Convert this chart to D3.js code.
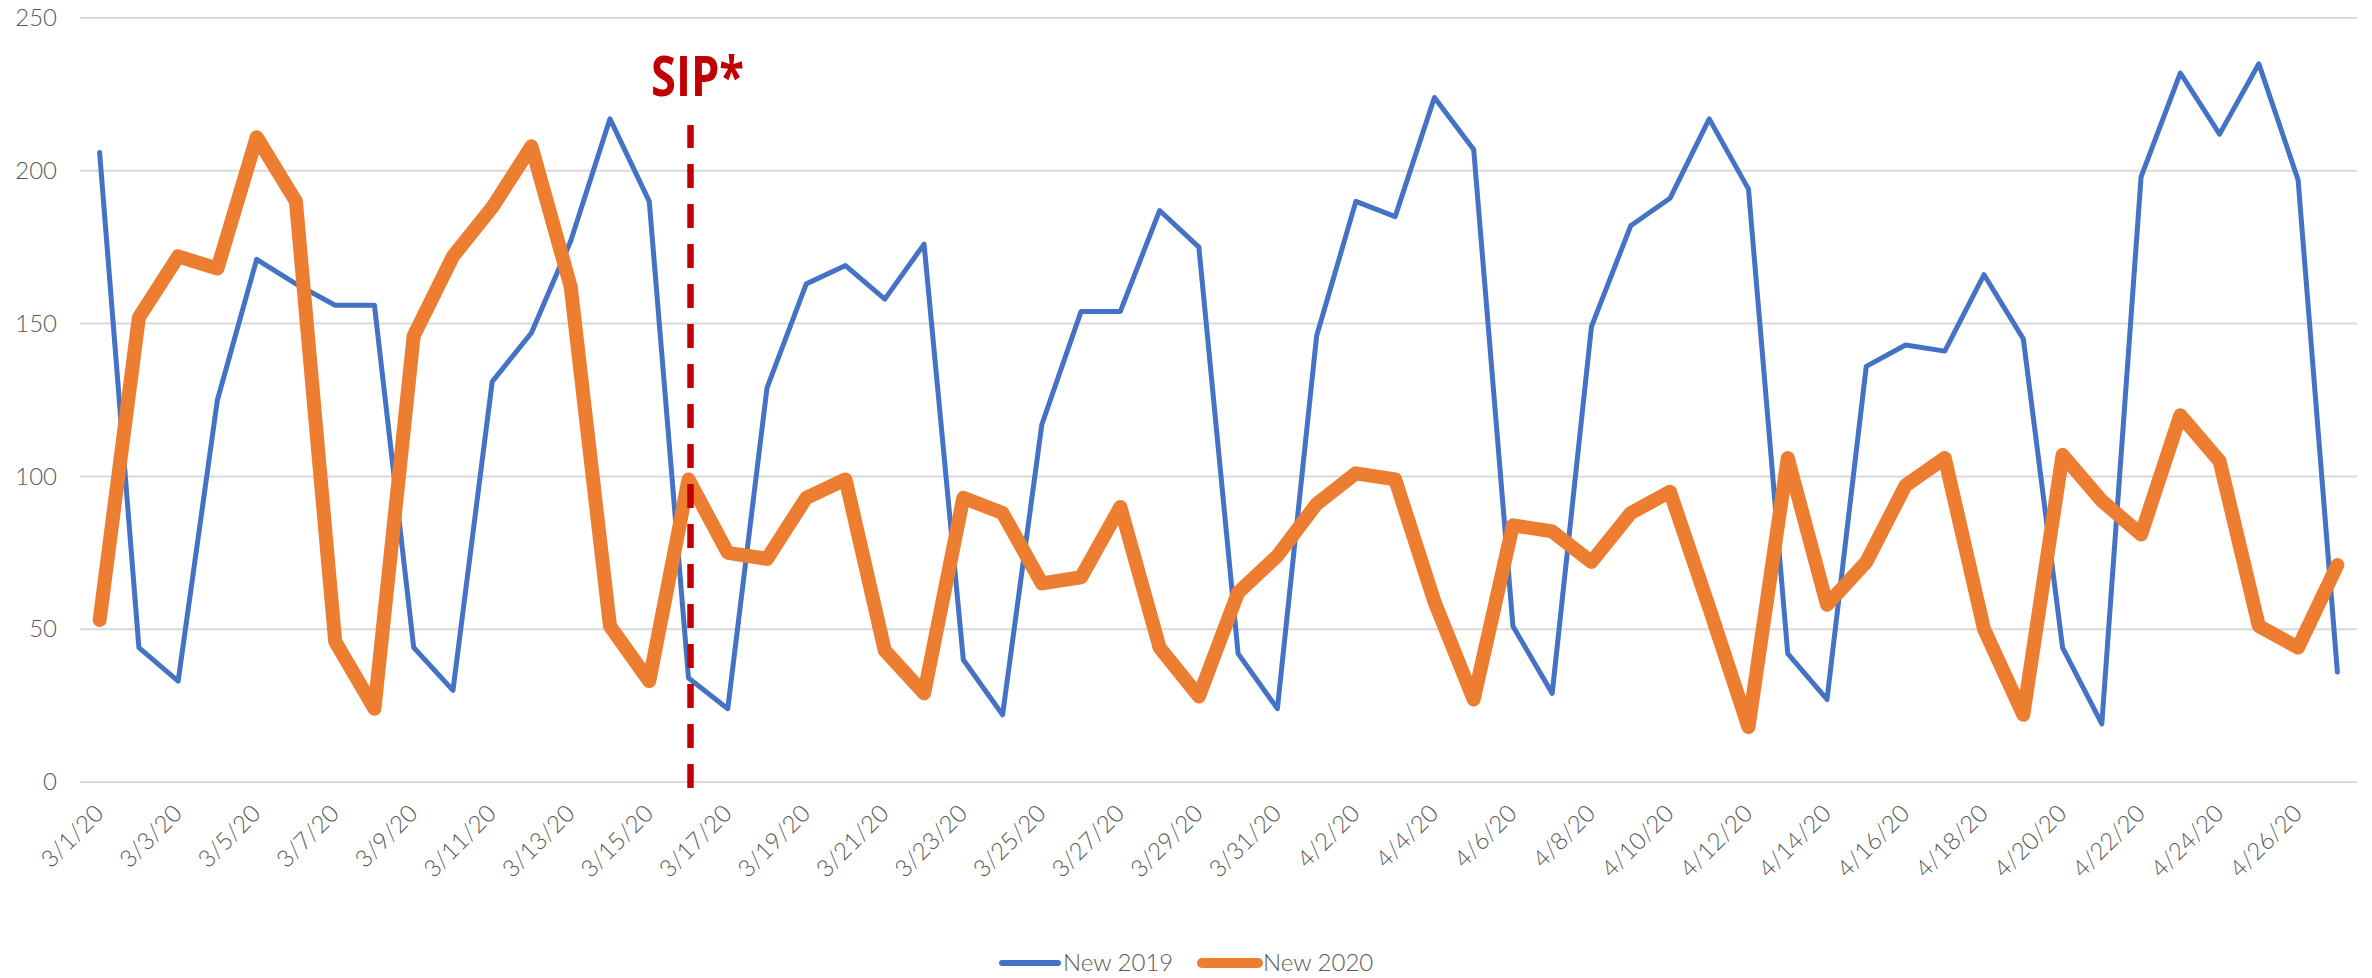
<!DOCTYPE html>
<html>
<head>
<meta charset="utf-8">
<script src="https://cdn.jsdelivr.net/npm/d3@7"></script>
<style>
    body { margin: 0; background: #ffffff; }
    .tickText { font-family: Lato, "Open Sans", sans-serif; font-weight: 300; fill: #595959; }
</style>
</head>
<body>
<script>

// daily categories on the x axis
var dates = [
    "3/1/20", "3/2/20", "3/3/20", "3/4/20", "3/5/20", "3/6/20", "3/7/20", "3/8/20",
    "3/9/20", "3/10/20", "3/11/20", "3/12/20", "3/13/20", "3/14/20", "3/15/20", "3/16/20",
    "3/17/20", "3/18/20", "3/19/20", "3/20/20", "3/21/20", "3/22/20", "3/23/20", "3/24/20",
    "3/25/20", "3/26/20", "3/27/20", "3/28/20", "3/29/20", "3/30/20", "3/31/20",
    "4/1/20", "4/2/20", "4/3/20", "4/4/20", "4/5/20", "4/6/20", "4/7/20", "4/8/20",
    "4/9/20", "4/10/20", "4/11/20", "4/12/20", "4/13/20", "4/14/20", "4/15/20", "4/16/20",
    "4/17/20", "4/18/20", "4/19/20", "4/20/20", "4/21/20", "4/22/20", "4/23/20", "4/24/20",
    "4/25/20", "4/26/20", "4/27/20"
];

// series values
var new2019 = [
    206, 44, 33, 125, 171, 163, 156, 156, 44,
    30, 131, 147, 177, 217, 190, 34, 24, 129, 163,
    169, 158, 176, 40, 22, 117, 154, 154, 187, 175,
    42, 24, 146, 190, 185, 224, 207, 51, 29, 149,
    182, 191, 217, 194, 42, 27, 136, 143, 141, 166, 145,
    44, 19, 198, 232, 212, 235, 197, 36
];

var new2020 = [
    53, 152, 172, 168, 211, 190, 46, 24, 146,
    172, 188, 208, 162, 51, 33, 99, 75, 73, 93,
    99, 43, 29, 93, 88, 65, 67, 90, 44, 28,
    62, 74, 91, 101, 99, 59, 27, 84, 82, 72,
    88, 95, 57, 18, 106, 58, 72, 97, 106, 50, 22,
    107, 92, 81, 120, 105, 51, 44, 71
];

var yTicks = [0, 50, 100, 150, 200, 250];

// shelter in place marker
var sipDate = "3/16/20";
var sipLabel = "SIP*";

var seriesNames = ["New 2019", "New 2020"];

window.onload = function() {

    var outerWidth = 2372;
    var outerHeight = 978;

    // plot area edges
    var plot = { left: 80, right: 2357, top: 18, bottom: 782 };

    var svg = d3.select("body").append("svg")
        .attr("width", outerWidth)
        .attr("height", outerHeight)
        .style("display", "block");

    svg.append("rect")
        .attr("width", outerWidth)
        .attr("height", outerHeight)
        .attr("fill", "#ffffff");

    var x = d3.scalePoint()
        .domain(dates)
        .range([plot.left, plot.right])
        .padding(0.5);

    var y = d3.scaleLinear()
        .domain([0, 250])
        .range([plot.bottom, plot.top]);

    // horizontal gridlines
    svg.append("g")
        .selectAll("line")
        .data(yTicks)
        .enter()
        .append("line")
        .attr("x1", plot.left)
        .attr("x2", plot.right)
        .attr("y1", function(d) { return y(d); })
        .attr("y2", function(d) { return y(d); })
        .attr("stroke", "#d9d9d9")
        .attr("stroke-width", 2);

    // y axis labels
    var yAxis = d3.axisLeft(y).tickValues(yTicks).tickSize(0).tickPadding(0);
    var yG = svg.append("g")
        .attr("transform", "translate(57,0)")
        .call(yAxis);
    yG.select(".domain").remove();
    yG.selectAll("text")
        .attr("class", "tickText")
        .style("font-size", "24px")
        .attr("x", 0);

    // x axis labels, every second day, rotated
    var xAxis = d3.axisBottom(x)
        .tickValues(dates.filter(function(d, i) { return i % 2 == 0; }))
        .tickSize(0);
    var xG = svg.append("g")
        .attr("transform", "translate(0," + plot.bottom + ")")
        .call(xAxis);
    xG.select(".domain").remove();
    xG.selectAll("text")
        .attr("class", "tickText")
        .style("font-size", "24px")
        .attr("y", 0)
        .attr("dy", 0)
        .style("text-anchor", "end")
        .attr("transform", "translate(5,33) rotate(-45)");

    // one line generator for both series
    var valueLine = d3.line()
        .x(function(d, i) { return x(dates[i]); })
        .y(function(d) { return y(d); });

    svg.append("path")
        .datum(new2019)
        .attr("d", valueLine)
        .attr("fill", "none")
        .attr("stroke", "#4472c4")
        .attr("stroke-width", 5)
        .attr("stroke-linejoin", "round")
        .attr("stroke-linecap", "round");

    svg.append("path")
        .datum(new2020)
        .attr("d", valueLine)
        .attr("fill", "none")
        .attr("stroke", "#ed7d31")
        .attr("stroke-width", 14)
        .attr("stroke-linejoin", "round")
        .attr("stroke-linecap", "round");

    // SIP dashed marker, drawn from the bottom up so the dashes start at the axis
    var sipX = x(sipDate) + 2;
    svg.append("line")
        .attr("x1", sipX)
        .attr("x2", sipX)
        .attr("y1", plot.bottom + 6)
        .attr("y2", 125)
        .attr("stroke", "#c00000")
        .attr("stroke-width", 6.5)
        .attr("stroke-dasharray", "24,16");

    svg.append("text")
        .attr("x", sipX + 7)
        .attr("y", 96)
        .style("text-anchor", "middle")
        .style("font-family", "'Open Sans', 'Liberation Sans', sans-serif")
        .style("font-weight", "bold")
        .style("font-size", "55px")
        .attr("textLength", 93)
        .attr("lengthAdjust", "spacingAndGlyphs")
        .attr("fill", "#c00000")
        .text(sipLabel);

    // legend at the bottom
    var legendItems = [
        { name: seriesNames[0], color: "#4472c4", width: 6, x: 1002 },
        { name: seriesNames[1], color: "#ed7d31", width: 10, x: 1202 }
    ];

    var legend = svg.append("g");
    legend.selectAll("line")
        .data(legendItems)
        .enter()
        .append("line")
        .attr("x1", function(d) { return d.x; })
        .attr("x2", function(d) { return d.x + 56; })
        .attr("y1", 963)
        .attr("y2", 963)
        .attr("stroke", function(d) { return d.color; })
        .attr("stroke-width", function(d) { return d.width; })
        .attr("stroke-linecap", "round");

    legend.selectAll("text")
        .data(legendItems)
        .enter()
        .append("text")
        .attr("class", "tickText")
        .attr("x", function(d) { return d.x + 61; })
        .attr("y", 963)
        .attr("dy", "0.35em")
        .style("font-size", "24px")
        .text(function(d) { return d.name; });

};
</script>
</body>
</html>
